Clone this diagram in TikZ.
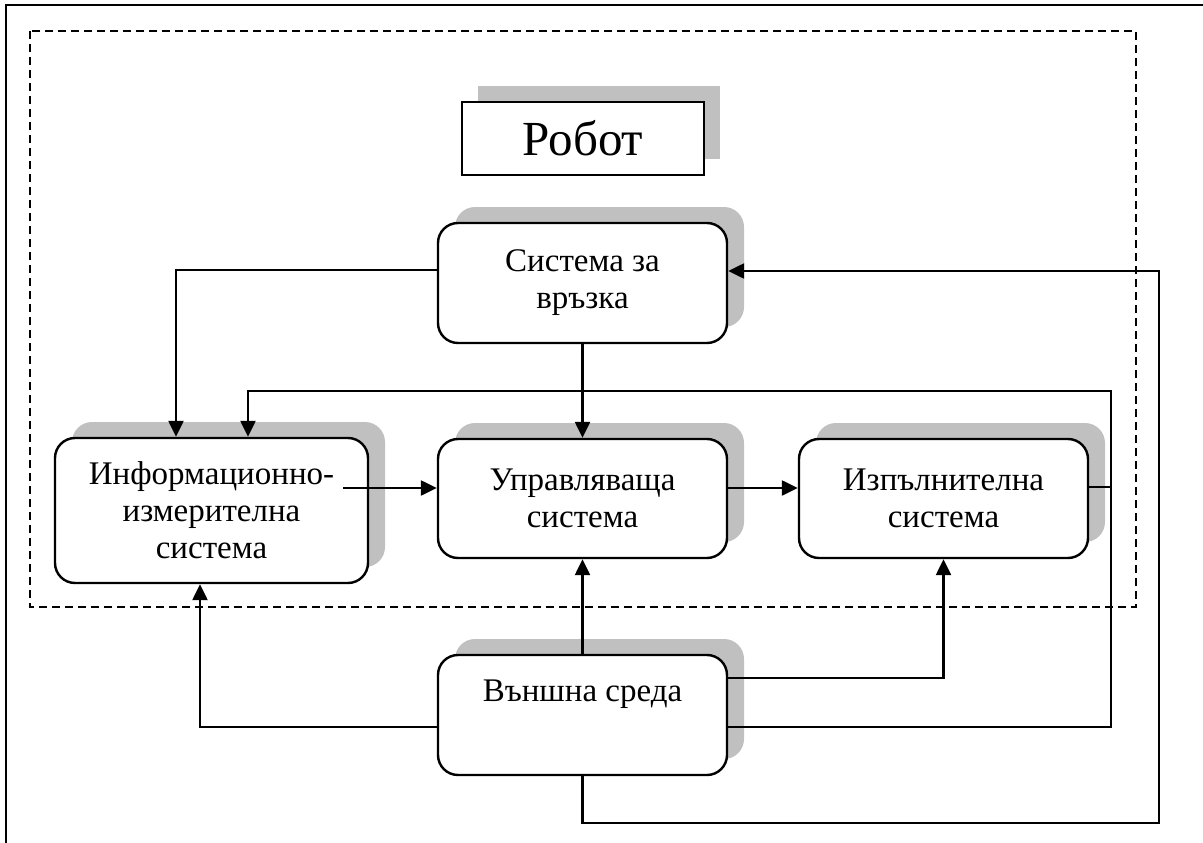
\documentclass[tikz,border=0pt]{standalone}
\usepackage{fontspec}
\setmainfont{Liberation Serif}
\usetikzlibrary{arrows.meta,shadows,calc}
\definecolor{shadowgray}{HTML}{C0C0C0}
\begin{document}
\begin{tikzpicture}[x=1pt,y=-1pt,
  sysbox/.style={draw,line width=2.4pt,rounded corners=20pt,fill=white,
    minimum width=289pt,minimum height=120pt,inner sep=0pt,align=center,
    font=\fontsize{33}{37}\selectfont,
    general shadow={fill=shadowgray,shadow xshift=17pt,shadow yshift=16pt}},
  titlebox/.style={draw,line width=2.4pt,fill=white,
    minimum width=242pt,minimum height=73pt,inner sep=0pt,
    font=\fontsize{49}{53}\selectfont,
    general shadow={fill=shadowgray,shadow xshift=16pt,shadow yshift=16pt}},
  conn/.style={line width=2.4pt},
  arr/.style={conn,-{Triangle[length=16pt,width=15pt]}},
  frameline/.style={line width=1.6pt},
  robotzone/.style={line width=2pt,dash pattern=on 8pt off 5pt}]
\useasboundingbox (0,0) rectangle (1203,843);
% outer frame
\draw[frameline] (6,843) -- (6,5) -- (1203,5);
% robot boundary
\draw[robotzone] (30,31) rectangle (1136,607);
% title
\node[titlebox] (robot) at (583,138.5) {Робот};
% blocks
\node[sysbox] (sys) at (582.5,283) {Система за\\връзка};
\node[sysbox,minimum width=313pt,minimum height=145pt] (info) at (211.5,510.5) {Информационно-\\измерителна\\система};
\node[sysbox,minimum height=119pt] (upr) at (582.5,498.5) {Управляваща\\система};
\node[sysbox,minimum height=119pt] (isp) at (943.5,498.5) {Изпълнителна\\система};
\node[sysbox] (vun) at (582.5,715) {Външна среда\\\strut};
% coordinates for the outer routes
\coordinate (istart) at (343,488);
\coordinate (jtop) at (1111,391);
\coordinate (jbot) at (1111,727);
\coordinate (jisp) at (1111,487);
\coordinate (obot) at (1159,823);
\coordinate (otop) at (1159,271);
% connectors
\draw[arr] ([yshift=13pt]sys.west) -| ([xshift=-35.5pt]info.north);
\draw[arr] (sys) -- (upr);
\draw[arr] (istart) -- (istart -| upr.west);
\draw[arr] ([yshift=10.5pt]upr.east) -- ([yshift=10.5pt]isp.west);
\draw[conn] ([yshift=11.5pt]isp.east) -- (jisp);
\draw[arr] ([yshift=-12pt]vun.east) -- (jbot) -- (jtop) -| ([xshift=36.5pt]info.north);
\draw[arr] ([yshift=-12pt]vun.west) -| ([xshift=-11.5pt]info.south);
\draw[arr] (vun) -- (upr);
\draw[arr] ([yshift=37pt]vun.east) -| (isp.south);
\draw[arr] (vun.south) -- (vun.south |- obot) -- (obot) -- (otop) -- (otop -| sys.east);
\end{tikzpicture}
\end{document}
